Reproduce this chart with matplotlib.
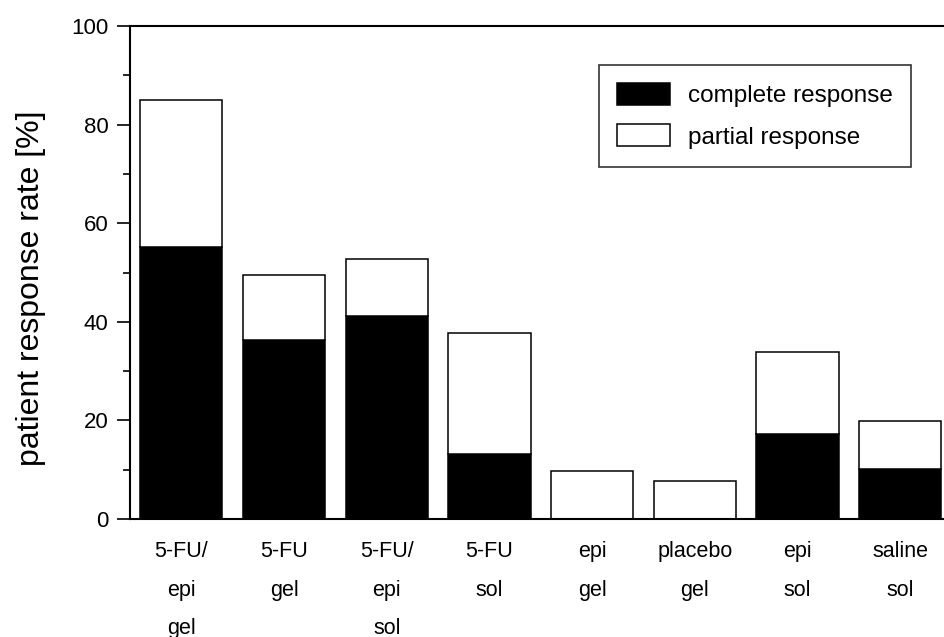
"""Stacked bar chart of patient response rates per treatment group."""

from __future__ import annotations

import matplotlib

matplotlib.use("Agg")
import matplotlib.pyplot as plt
import numpy as np
from matplotlib.ticker import MultipleLocator

OUT_PATH = "out.png"

GROUPS = [
    "5-FU/\nepi\ngel",
    "5-FU\ngel",
    "5-FU/\nepi\nsol",
    "5-FU\nsol",
    "epi\ngel",
    "placebo\ngel",
    "epi\nsol",
    "saline\nsol",
]
# response rates in percent of patients
COMPLETE = [55.1, 36.3, 41.2, 13.2, 0.0, 0.0, 17.3, 10.1]
PARTIAL = [29.9, 13.3, 11.6, 24.6, 9.8, 7.8, 16.6, 9.8]

Y_TICKS = [0, 20, 40, 60, 80, 100]

FONT = ["Liberation Sans", "DejaVu Sans"]


def plot_response_rates(out_path: str = OUT_PATH) -> None:
    plt.rcParams["font.family"] = FONT
    fig = plt.figure(figsize=(9.44, 6.37), dpi=100)
    # axes run past the right edge, so the right spine falls outside the frame
    ax = fig.add_axes([0.1377, 0.1852, 0.8703, 0.7739])

    x = np.arange(1, len(GROUPS) + 1)
    ax.bar(x, COMPLETE, width=0.8, color="black", edgecolor="black", lw=1.1,
           label="complete response", zorder=2)
    ax.bar(x, PARTIAL, width=0.8, bottom=COMPLETE, color="white", edgecolor="black",
           lw=1.1, label="partial response", zorder=2)

    ax.set_xlim(0.5, len(GROUPS) + 0.5)
    ax.set_ylim(0, 100)
    ax.set_yticks(Y_TICKS)
    ax.yaxis.set_minor_locator(MultipleLocator(10))
    ax.set_xticks([])

    # group names below the axis, stacked on widely spaced lines
    for xi, name in zip(x, GROUPS):
        ax.annotate(
            name,
            xy=(xi, 0),
            xycoords=("data", "axes fraction"),
            xytext=(0, -16),
            textcoords="offset points",
            ha="center",
            va="top",
            fontsize=15.5,
            linespacing=2.1,
            annotation_clip=False,
        )

    ax.tick_params(axis="y", which="major", direction="out", length=9.5, width=1.2,
                   labelsize=16, pad=6)
    ax.tick_params(axis="y", which="minor", direction="out", length=5, width=1.2)

    for side in ("left", "bottom", "top"):
        ax.spines[side].set_linewidth(1.5)
    ax.spines["right"].set_visible(False)

    ax.set_ylabel("patient response rate [%]", fontsize=23)
    ax.yaxis.set_label_coords(-0.102, 0.469)

    leg = ax.legend(
        loc="upper right",
        bbox_to_anchor=(0.9506, 0.921),
        borderaxespad=0,
        fontsize=17.5,
        frameon=True,
        fancybox=False,
        handlelength=2.15,
        handleheight=1.0,
        handletextpad=0.75,
        labelspacing=0.7,
        borderpad=0.75,
    )
    leg.get_frame().set_edgecolor("black")
    leg.get_frame().set_linewidth(1.2)

    fig.savefig(out_path)
    plt.close(fig)


if __name__ == "__main__":
    plot_response_rates()
